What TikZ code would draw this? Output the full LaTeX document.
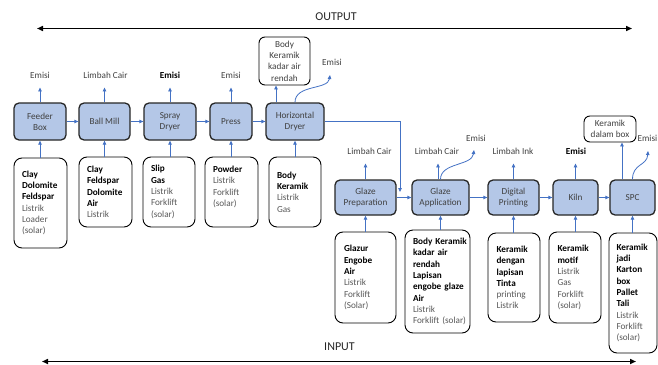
\documentclass[tikz,border=0pt]{standalone}
\usepackage{fontspec}
\setmainfont{Carlito}
\usetikzlibrary{arrows.meta}
\definecolor{procblue}{HTML}{B4C7E7}
\definecolor{flowblue}{HTML}{4472C4}
\definecolor{txtgray}{HTML}{404040}
\definecolor{softgray}{HTML}{595959}
\newcommand{\figfs}{\fontsize{9.2}{11.3}\selectfont}
\newcommand{\bkt}[1]{\mbox{\color{black}\bfseries #1}}
\begin{document}
\begin{tikzpicture}[x=1pt,y=-1pt,
 proc/.style={draw=black!85, line width=1.3pt, fill=procblue, rounded corners=5pt, font=\figfs, text=txtgray, align=center, inner sep=0pt},
 inbox/.style={draw=black, line width=0.9pt, rounded corners=8pt, fill=white, align=left, inner xsep=8pt, inner ysep=0pt, font=\figfs, text=softgray},
 outbox/.style={draw=black, line width=0.9pt, rounded corners=6pt, fill=white, align=center, inner sep=0pt, font=\figfs, text=txtgray},
 lbl/.style={font=\figfs, text=txtgray, inner sep=0pt, text height=6.5pt, text depth=1pt},
 flow/.style={-{Triangle[length=4pt,width=3.5pt]}, draw=flowblue, line width=0.8pt},
 outarrow/.style={flow, shorten >=7.5pt},
 axisarrow/.style={{Triangle[length=6pt,width=5pt]}-{Triangle[length=6pt,width=5pt]}, line width=1.6pt, draw=black},
 title/.style={font=\fontsize{12}{14}\selectfont, text=black!85, inner sep=0pt}
]
\useasboundingbox (0,0) rectangle (658,364);

% axes
\node[title] (outt) at (336,17) {OUTPUT};
\coordinate (oL) at (37,28.5);
\coordinate (oR) at (632,28.5);
\draw[axisarrow] (oL) -- (oR);
\node[title] (int) at (339.5,347) {INPUT};
\coordinate (iL) at (42,361.5);
\coordinate (iR) at (636,361.5);
\draw[axisarrow] (iL) -- (iR);

% process row 1
\node[proc, minimum width=52pt, minimum height=37pt] (feeder) at (40,121.5) {Feeder\\Box};
\node[proc, minimum width=51pt, minimum height=37pt] (ballmill) at (104.5,121.5) {Ball Mill};
\node[proc, minimum width=52pt, minimum height=37pt] (spray) at (170,121.5) {Spray\\Dryer};
\node[proc, minimum width=42pt, minimum height=37pt] (press) at (231,121.5) {Press};
\node[proc, minimum width=58pt, minimum height=37pt] (hdryer) at (295,121.5) {Horizontal\\Dryer};

% process row 2
\node[proc, minimum width=61pt, minimum height=35pt] (gprep) at (365.5,197.5) {Glaze\\Preparation};
\node[proc, minimum width=57pt, minimum height=35pt] (gapp) at (440.5,197.5) {Glaze\\Application};
\node[proc, minimum width=51pt, minimum height=35pt] (dprint) at (513.5,197.5) {Digital\\Printing};
\node[proc, minimum width=45pt, minimum height=35pt] (kiln) at (575.5,197.5) {Kiln};
\node[proc, minimum width=45pt, minimum height=35pt] (spc) at (632.5,197.5) {SPC};

% flows
\draw[flow] (feeder) -- (ballmill);
\draw[flow] (ballmill) -- (spray);
\draw[flow] (spray) -- (press);
\draw[flow] (press) -- (hdryer);
\draw[flow] (gprep) -- (gapp);
\draw[flow] (gapp) -- (dprint);
\draw[flow] (dprint) -- (kiln);
\draw[flow] (kiln) -- (spc);
\coordinate (drop) at (400,192);
\draw[flow] (hdryer.east) -| (drop);

% outputs row 1
\node[lbl] (o1) at (40,76) {Emisi};
\node[lbl] (o2) at (105.5,76) {Limbah Cair};
\node[lbl, text=black, font=\figfs\bfseries] (o3) at (170,76) {Emisi};
\node[lbl] (o4) at (231,76) {Emisi};
\draw[outarrow] (feeder.north) -- (feeder.north |- o1.south);
\draw[outarrow] (ballmill.north) -- (ballmill.north |- o2.south);
\draw[outarrow] (spray.north) -- (spray.north |- o3.south);
\draw[outarrow] (press.north) -- (press.north |- o4.south);

\node[outbox, minimum width=51pt, minimum height=48pt] (bodyk) at (284.5,61) {Body\\Keramik\\kadar air\\rendah};
\draw[flow] ([xshift=-19pt]hdryer.north) -- ([xshift=-19pt]hdryer.north |- bodyk.south);
\node[lbl] (o5) at (332,63) {Emisi};
\coordinate (t5) at (330,75);
\draw[flow] (hdryer.north) .. controls +(0,-18) and +(-2,15) .. (t5);

% outputs row 2
\node[lbl] (p1) at (369.5,152) {Limbah Cair};
\node[lbl] (p2) at (437,152) {Limbah Cair};
\node[lbl] (p2e) at (476,139) {Emisi};
\node[lbl] (p3) at (513,152) {Limbah Ink};
\node[lbl, text=black, font=\figfs\bfseries] (p4) at (576,152) {Emisi};
\node[outbox, minimum width=52pt, minimum height=26pt] (kdb) at (610,129) {Keramik\\dalam box};
\node[lbl, anchor=east] (p5) at (657.5,139) {Emisi};
\draw[outarrow] (gprep.north) -- (gprep.north |- p1.south);
\draw[outarrow] ([xshift=-2.5pt]gapp.north) -- ([xshift=-2.5pt]gapp.north |- p2.south);
\draw[outarrow] (dprint.north) -- (dprint.north |- p3.south);
\draw[outarrow] (kiln.north) -- (kiln.north |- p4.south);
\draw[flow] ([xshift=-10.5pt]spc.north) -- ([xshift=-10.5pt]spc.north |- kdb.south);
\coordinate (t7) at (474,150);
\draw[flow] (gapp.north) .. controls +(0,-17) and +(-2,16) .. (t7);
\coordinate (t10) at (648,151);
\draw[flow] (spc.north) .. controls +(0,-16) and +(-1,15) .. (t10);

% inputs row 1
\node[inbox, minimum width=53pt, text width=37pt, minimum height=90pt] (in1) at (40.5,203) {\bkt{Clay}\\\bkt{Dolomite}\\\bkt{Feldspar}\\Listrik\\Loader\\(solar)};
\node[inbox, minimum width=53pt, text width=37pt, minimum height=70pt] (in2) at (105.5,192) {\bkt{Clay}\\\bkt{Feldspar}\\\bkt{Dolomite}\\\bkt{Air}\\Listrik};
\node[inbox, minimum width=52pt, text width=36pt, minimum height=70pt] (in3) at (169,192) {\bkt{Slip}\\\bkt{Gas}\\Listrik\\Forklift\\(solar)};
\node[inbox, minimum width=53pt, text width=37pt, minimum height=70pt] (in4) at (231.5,192) {\bkt{Powder}\\Listrik\\Forklift\\(solar)\\\mbox{}};
\node[inbox, minimum width=52pt, text width=36pt, minimum height=70pt] (in5) at (295,192) {\bkt{Body}\\\bkt{Keramik}\\Listrik\\Gas};

% inputs row 2
\node[inbox, minimum width=61pt, text width=43pt, inner xsep=9pt, minimum height=91pt] (in6) at (365.5,277.5) {\bkt{Glazur}\\\bkt{Engobe}\\\bkt{Air}\\Listrik\\Forklift\\(Solar)};
\node[inbox, minimum width=65pt, text width=49pt, minimum height=103pt] (in7) at (437.5,281.5) {\bkt{Body Keramik}\\\bkt{kadar air}\\\bkt{rendah}\\\bkt{Lapisan}\\\bkt{engobe glaze}\\\bkt{Air}\\Listrik\\\mbox{Forklift (solar)}};
\node[inbox, minimum width=52pt, text width=35pt, inner xsep=8.5pt, minimum height=89pt] (in8) at (514,277.5) {\bkt{Keramik}\\\bkt{dengan}\\\bkt{lapisan}\\\bkt{Tinta}\\printing\\Listrik};
\node[inbox, minimum width=52pt, text width=35pt, inner xsep=8.5pt, minimum height=91pt] (in9) at (575,277.5) {\bkt{Keramik}\\\bkt{motif}\\Listrik\\Gas\\Forklift\\(solar)};
\node[inbox, minimum width=48pt, text width=33pt, inner xsep=7.5pt, minimum height=120pt] (in10) at (633,293) {\bkt{Keramik}\\\bkt{jadi}\\\bkt{Karton}\\\bkt{box}\\\bkt{Pallet}\\\bkt{Tali}\\Listrik\\Forklift\\(solar)};

% input arrows
\draw[flow] (in1.north -| feeder.south) -- (feeder.south);
\draw[flow] (in2.north -| ballmill.south) -- (ballmill.south);
\draw[flow] (in3.north -| spray.south) -- (spray.south);
\draw[flow] (in4.north -| press.south) -- (press.south);
\draw[flow] (in5.north -| hdryer.south) -- (hdryer.south);
\draw[flow] (in6.north -| gprep.south) -- (gprep.south);
\draw[flow] (in7.north -| gapp.south) -- (gapp.south);
\draw[flow] (in8.north -| dprint.south) -- (dprint.south);
\draw[flow] (in9.north -| kiln.south) -- (kiln.south);
\draw[flow] (in10.north -| spc.south) -- (spc.south);
\end{tikzpicture}
\end{document}
